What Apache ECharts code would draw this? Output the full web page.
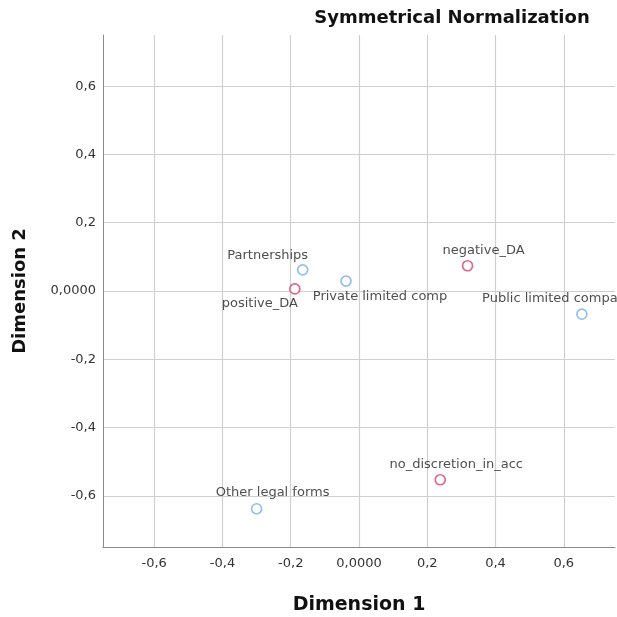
<!DOCTYPE html>
<html>
<head>
<meta charset="utf-8">
<script src="https://cdn.jsdelivr.net/npm/echarts@6/dist/echarts.min.js"></script>
<style>
  html, body { margin: 0; padding: 0; background: #fff; }
  #container { width: 617px; height: 617px; }
</style>
</head>
<body>
<div id="container"></div>
<script>
// row points (blue) and column points (red)
var rowNames = ['Partnerships', 'Private limited comp', 'Public limited compa', 'Other legal forms'];
var rowX = [-0.165, -0.038, 0.653, -0.300];
var rowY = [0.062, 0.029, -0.068, -0.638];

var colNames = ['positive_DA', 'negative_DA', 'no_discretion_in_acc'];
var colX = [-0.188, 0.318, 0.238];
var colY = [0.006, 0.074, -0.553];

var tickValues = [-0.6, -0.4, -0.2, 0, 0.2, 0.4, 0.6];

// label offsets (px) so text sits where SPSS put it
var rowLabelOffset = [[-35, -14], [34, 16], [-32, -16], [16, -16]];
var colLabelOffset = [[-35, 15], [16, -15], [16, -15]];

function makeData(names, xs, ys, offsets) {
    var result = [];
    for (var i = 0; i < names.length; i++) {
        result.push({
            name: names[i],
            value: [xs[i], ys[i]],
            label: { offset: offsets[i] }
        });
    }
    return result;
}

function fmt(v) {
    if (Math.abs(v) < 1e-9) return '0,0000';
    return v.toFixed(1).replace('.', ',');
}

var font = '"DejaVu Sans", sans-serif';
var dom = document.getElementById('container');
var myChart = echarts.init(dom);

var option = {
    animation: false,
    textStyle: { fontFamily: font },
    title: {
        text: 'Symmetrical Normalization',
        left: 447,
        textAlign: 'center',
        top: 4,
        textStyle: { fontSize: 18, fontWeight: 'bold', color: '#111', fontFamily: font }
    },
    grid: { left: 103, right: 2, top: 35, bottom: 70, outerBoundsMode: 'none', containLabel: false },
    xAxis: {
        type: 'value',
        min: -0.75,
        max: 0.75,
        name: 'Dimension 1',
        nameLocation: 'middle',
        nameGap: 49,
        nameMoveOverlap: false,
        nameTextStyle: { fontSize: 19, fontWeight: 'bold', color: '#111', fontFamily: font },
        axisLine: { onZero: false, lineStyle: { color: '#8a8a8a', width: 1 } },
        axisTick: { show: false, customValues: tickValues },
        axisLabel: { formatter: fmt, color: '#333', fontSize: 13, margin: 10, customValues: tickValues, fontFamily: font },
        splitLine: { lineStyle: { color: '#cfcfcf', width: 1.2 } }
    },
    yAxis: {
        type: 'value',
        min: -0.75,
        max: 0.75,
        name: 'Dimension 2',
        nameLocation: 'middle',
        nameGap: 74,
        nameMoveOverlap: false,
        nameTextStyle: { fontSize: 18, fontWeight: 'bold', color: '#111', fontFamily: font },
        axisLine: { onZero: false, lineStyle: { color: '#8a8a8a', width: 1 } },
        axisTick: { show: false, customValues: tickValues },
        axisLabel: { formatter: fmt, color: '#333', fontSize: 13, margin: 7, customValues: tickValues, fontFamily: font },
        splitLine: { lineStyle: { color: '#cfcfcf', width: 1.2 } }
    },
    series: [
        {
            name: 'rows',
            type: 'scatter',
            symbol: 'circle',
            symbolSize: 10,
            data: makeData(rowNames, rowX, rowY, rowLabelOffset),
            itemStyle: { color: '#fff', borderColor: '#7aaee6', borderWidth: 1.7 },
            label: { show: true, formatter: '{b}', position: 'inside', color: '#222', fontSize: 13, fontFamily: font }
        },
        {
            name: 'columns',
            type: 'scatter',
            symbol: 'circle',
            symbolSize: 10,
            data: makeData(colNames, colX, colY, colLabelOffset),
            itemStyle: { color: '#fff', borderColor: '#d8426a', borderWidth: 1.7 },
            label: { show: true, formatter: '{b}', position: 'inside', color: '#222', fontSize: 13, fontFamily: font }
        }
    ]
};

myChart.setOption(option, true);
</script>
</body>
</html>
